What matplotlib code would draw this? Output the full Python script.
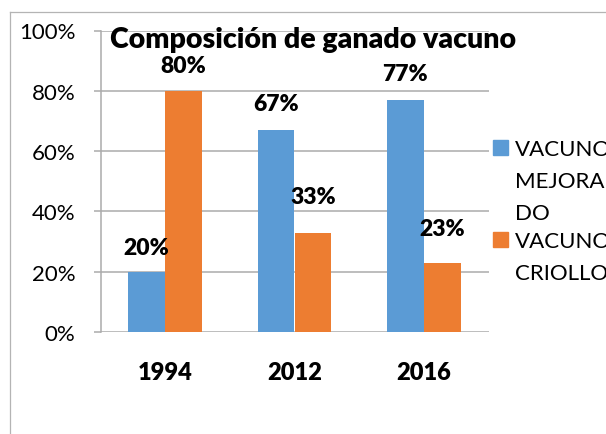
import matplotlib

matplotlib.use("Agg")
import matplotlib.pyplot as plt  # noqa: E402
import numpy as np  # noqa: E402
from matplotlib.patches import Rectangle  # noqa: E402
from matplotlib.lines import Line2D  # noqa: E402

years = ["1994", "2012", "2016"]
mejorado = [20, 67, 77]
criollo = [80, 33, 23]
series_names = ["VACUNO\nMEJORA\nDO", "VACUNO\nCRIOLLO"]
y_ticks = [0, 20, 40, 60, 80, 100]
title = "Composición de ganado vacuno"

BLUE = "#5B9BD5"
ORANGE = "#ED7D31"
GRID = "#ABABAB"
FONT = "Lato"
HEAVY = "heavy"

plt.rcParams["font.family"] = [FONT, "DejaVu Sans"]

fig = plt.figure(figsize=(6.06, 4.35), dpi=100)
W, H = 606, 435


def px(x, y):
    # pixel (from top-left) -> figure fraction
    return x / W, 1 - y / H


# outer chart frame (clipped at right and bottom, like the source)
fig.add_artist(Line2D([10 / W, 10 / W], [0, 1 - 13 / H], color="#B4B4B4", lw=0.9))
fig.add_artist(Line2D([10 / W, 1], [1 - 13 / H, 1 - 13 / H], color="#B4B4B4", lw=0.9))

ax = fig.add_axes([100.5 / W, 1 - 333 / H, 388 / W, 301.5 / H])
x = np.arange(len(years))
bw = 0.286
b1 = ax.bar(x - bw / 2, mejorado, bw, color=BLUE, zorder=3)
b2 = ax.bar(x + bw / 2, criollo, bw, color=ORANGE, zorder=3)

ax.set_xlim(-0.5, len(years) - 0.5)
ax.set_ylim(0, 100)
ax.set_yticks(y_ticks)
ax.set_yticklabels([f"{t}%" for t in y_ticks], fontsize=16)
ax.yaxis.grid(True, color=GRID, lw=1.1, zorder=0)
ax.set_axisbelow(True)
ax.tick_params(axis="y", length=5, width=1.1, color=GRID, pad=13)
ax.set_xticks(x)
ax.set_xticklabels(years, fontsize=17, fontweight=HEAVY)
ax.tick_params(axis="x", length=0, pad=21)
for s in ["top", "right", "bottom"]:
    ax.spines[s].set_visible(False)
ax.spines["left"].set_color(GRID)
ax.spines["left"].set_linewidth(1.1)

# data labels, lift above bar top in pixels
lift_blue = [18, 20, 20]
lift_orange = [18.5, 29.5, 27.5]
for bars, vals, lifts in ((b1, mejorado, lift_blue), (b2, criollo, lift_orange)):
    for rect, v, lf in zip(bars, vals, lifts):
        ax.annotate(
            f"{v}%",
            (rect.get_x() + rect.get_width() / 2, v),
            xytext=(0, lf * 72 / 100),
            textcoords="offset points",
            ha="center",
            va="baseline",
            fontsize=16.5,
            fontweight=HEAVY,
        )

fig.text(*px(313, 48), title, ha="center", va="baseline", fontsize=20.5,
         fontweight=HEAVY)

# legend drawn by hand so the marker sits on the first line
legend_rows = [(BLUE, series_names[0], 148), (ORANGE, series_names[1], 240)]
for color, name, yc in legend_rows:
    fig.add_artist(Rectangle(px(493, yc + 7.5), 15 / W, 15 / H, color=color,
                             transform=fig.transFigure))
    for i, line in enumerate(name.split("\n")):
        fig.text(*px(515, yc + i * 32), line, ha="left", va="center_baseline",
                 fontsize=16)

fig.savefig("out.png", dpi=100)
